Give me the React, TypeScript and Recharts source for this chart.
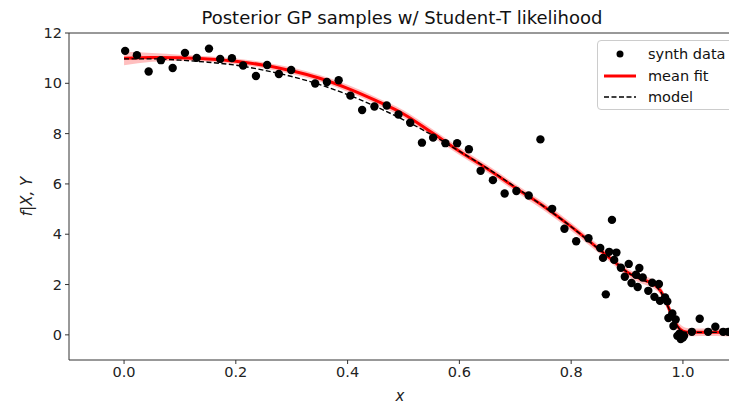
import { ComposedChart, Area, Line, Scatter, XAxis, YAxis, ReferenceLine } from 'recharts'

// observed points (x, y)
const obsX = [
  0.002, 0.023, 0.044, 0.066, 0.087, 0.109, 0.130, 0.152, 0.172, 0.193, 0.213, 0.236, 0.256, 0.277, 0.299,
  0.342, 0.363, 0.384, 0.405, 0.426, 0.448, 0.470, 0.491, 0.512, 0.533, 0.553, 0.575, 0.596, 0.617, 0.638,
  0.660, 0.681, 0.702, 0.724, 0.745, 0.766, 0.788, 0.809, 0.831, 0.852, 0.857, 0.862, 0.868, 0.873, 0.877,
  0.881, 0.889, 0.896, 0.903, 0.908, 0.916, 0.919, 0.922, 0.928, 0.938, 0.945, 0.949, 0.957, 0.959, 0.968,
  0.972, 0.974, 0.981, 0.983, 0.987, 0.990, 0.994, 0.996, 1.0, 1.002, 1.016, 1.030, 1.045, 1.058, 1.072, 1.081,
]
const obsY = [
  11.29, 11.12, 10.47, 10.92, 10.61, 11.21, 11.01, 11.38, 10.97, 11.0, 10.71, 10.29, 10.73, 10.37, 10.53,
  9.99, 10.05, 10.12, 9.51, 8.94, 9.08, 9.12, 8.76, 8.43, 7.64, 7.84, 7.62, 7.62, 7.38, 6.52,
  6.15, 5.62, 5.72, 5.54, 7.77, 5.01, 4.22, 3.72, 3.84, 3.45, 3.06, 1.61, 3.3, 4.57, 2.98,
  3.27, 2.67, 2.31, 2.82, 2.06, 2.39, 1.9, 2.66, 2.28, 1.75, 2.07, 1.51, 2.02, 1.35, 1.49,
  1.33, 0.67, 0.85, 0.35, 0.61, -0.04, 0.05, -0.17, -0.11, -0.04, 0.12, 0.64, 0.12, 0.32, 0.12, 0.12,
]

// fitted curve samples
const fitX = [
  0, 0.05, 0.1, 0.15, 0.2, 0.25, 0.3, 0.35, 0.4, 0.45, 0.5, 0.55, 0.6, 0.65, 0.7, 0.75, 0.8, 0.85,
  0.875, 0.9, 0.925, 0.95, 0.96, 0.97, 0.98, 0.99, 1.0, 1.01, 1.03, 1.06, 1.085,
]
const meanFit = [
  11.0, 11.03, 11.02, 10.97, 10.88, 10.72, 10.5, 10.2, 9.8, 9.32, 8.78, 8.05, 7.3, 6.6, 5.85, 5.12, 4.3, 3.4,
  2.95, 2.5, 2.22, 1.98, 1.75, 1.3, 0.78, 0.35, 0.15, 0.1, 0.1, 0.1, 0.1,
]
const model = [
  10.97, 10.97, 10.92, 10.84, 10.72, 10.52, 10.27, 9.95, 9.55, 9.08, 8.55, 7.96, 7.3, 6.62, 5.88, 5.12, 4.3, 3.4,
  2.98, 2.5, 2.2, 1.95, 1.72, 1.28, 0.78, 0.35, 0.12, 0.1, 0.1, 0.1, 0.1,
]
const bandLo = [
  10.72, 10.86, 10.9, 10.86, 10.76, 10.6, 10.37, 10.07, 9.66, 9.18, 8.63, 7.9, 7.15, 6.45, 5.7, 4.96, 4.14, 3.24,
  2.8, 2.33, 2.05, 1.8, 1.58, 1.12, 0.58, 0.15, -0.03, -0.06, -0.05, -0.05, -0.07,
]
const bandHi = [
  11.25, 11.2, 11.14, 11.08, 10.99, 10.84, 10.63, 10.33, 9.94, 9.46, 8.93, 8.2, 7.45, 6.75, 6.0, 5.28, 4.46, 3.56,
  3.1, 2.65, 2.38, 2.14, 1.92, 1.48, 0.98, 0.55, 0.33, 0.26, 0.25, 0.25, 0.27,
]

const xTicks = [0, 0.2, 0.4, 0.6, 0.8, 1.0]
const yTicks = [0, 2, 4, 6, 8, 10, 12]

const fitRows = fitX.map((x, i) => ({ x, mean: meanFit[i], model: model[i], band: [bandLo[i], bandHi[i]] }))
const points = obsX.map((x, i) => ({ x, y: obsY[i] }))

const font = '"DejaVu Sans", sans-serif'
const ink = '#333'
const tickStyle = { fill: '#222', fontSize: 14.5, fontFamily: font }

const Dot = (p: any) => <circle cx={p.cx} cy={p.cy} r={4.2} fill="#000" />

export default function App() {
  return (
    <div style={{ position: 'absolute', left: 0, top: 0, width: 729, height: 404, overflow: 'hidden', background: '#fff' }}>
      <div
        style={{
          position: 'absolute', left: 0, width: 804, top: 7, textAlign: 'center',
          fontFamily: font, fontSize: 18, color: '#111',
        }}
      >
        Posterior GP samples w/ Student-T likelihood
      </div>
      <ComposedChart width={740} height={404} data={fitRows} margin={{ top: 33, right: 9, bottom: 0, left: 0 }}>
        <XAxis
          dataKey="x"
          type="number"
          domain={[-0.0985, 1.086]}
          allowDataOverflow
          ticks={xTicks}
          tickFormatter={(v: number) => v.toFixed(1)}
          tick={tickStyle}
          tickSize={4}
          tickMargin={3}
          height={44}
          stroke={ink}
          label={{ value: 'x', position: 'insideBottom', offset: 3, fill: '#222', fontSize: 15, fontStyle: 'italic', fontFamily: font }}
        />
        <YAxis
          type="number"
          domain={[-1, 12]}
          allowDataOverflow
          ticks={yTicks}
          tick={tickStyle}
          tickSize={4}
          tickMargin={3}
          width={69}
          stroke={ink}
          label={{ value: 'f|X, Y', angle: -90, position: 'center', dx: -8, fill: '#222', fontSize: 15, fontStyle: 'italic', fontFamily: font }}
        />
        <ReferenceLine y={12} stroke={ink} />
        <Area dataKey="band" type="monotone" stroke="none" fill="#ff0000" fillOpacity={0.25} isAnimationActive={false} />
        <Line dataKey="mean" type="monotone" stroke="#ff0000" strokeWidth={3} dot={false} isAnimationActive={false} />
        <Line dataKey="model" type="monotone" stroke="#000" strokeWidth={1.4} strokeDasharray="5 2.5" dot={false} isAnimationActive={false} />
        <Scatter data={points} dataKey="y" shape={Dot} isAnimationActive={false} />
      </ComposedChart>
      <div
        style={{
          position: 'absolute', left: 597, top: 40, width: 150, height: 70, boxSizing: 'border-box',
          border: '1px solid #ccc', borderRadius: 4, background: 'rgba(255,255,255,0.8)',
          fontFamily: font, fontSize: 14.5, color: '#111',
        }}
      >
        {[
          { name: 'synth data', kind: 'dot' },
          { name: 'mean fit', kind: 'line' },
          { name: 'model', kind: 'dash' },
        ].map((e, i) => (
          <div key={e.name} style={{ position: 'absolute', left: 0, top: 3 + i * 21.5, height: 20, display: 'flex', alignItems: 'center' }}>
            <svg width={48} height={20} style={{ display: 'block' }}>
              {e.kind === 'dot' && <circle cx={22} cy={10} r={3.5} fill="#000" />}
              {e.kind === 'line' && <line x1={6} x2={38} y1={10} y2={10} stroke="#ff0000" strokeWidth={3} />}
              {e.kind === 'dash' && <line x1={6} x2={38} y1={10} y2={10} stroke="#000" strokeWidth={1.4} strokeDasharray="5 2.5" />}
            </svg>
            <span style={{ marginLeft: 2 }}>{e.name}</span>
          </div>
        ))}
      </div>
    </div>
  )
}
